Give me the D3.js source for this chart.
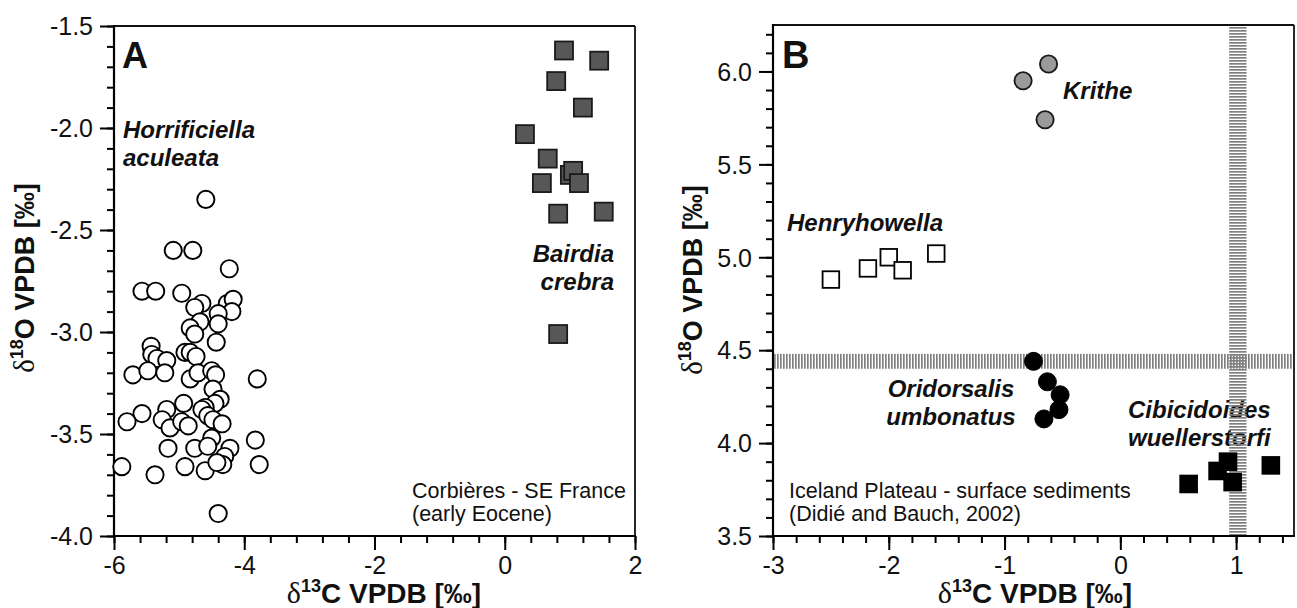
<!DOCTYPE html>
<html><head><meta charset="utf-8">
<script src="https://cdn.jsdelivr.net/npm/d3@7"></script>
<style>body{margin:0;background:#fff} svg{display:block;font-family:"Liberation Sans",Arial,sans-serif}</style>
</head><body><svg id="c" width="1297" height="608"></svg>
<script>
// ---- Panel A data (early Eocene, Corbières) ----
const horrificiella = [
 [-4.59,-2.35],[-5.09,-2.60],[-4.79,-2.60],[-4.23,-2.69],[-5.57,-2.80],[-5.36,-2.80],[-4.96,-2.81],
 [-4.65,-2.86],[-4.76,-2.88],[-4.26,-2.86],[-4.17,-2.84],[-4.19,-2.90],[-4.40,-2.91],[-4.68,-2.95],
 [-4.83,-2.98],[-4.40,-2.96],[-4.76,-3.01],[-4.43,-3.05],[-5.43,-3.07],[-5.42,-3.11],[-5.34,-3.13],
 [-5.19,-3.14],[-4.91,-3.10],[-4.83,-3.10],[-4.74,-3.12],[-5.71,-3.21],[-5.48,-3.19],[-5.22,-3.20],
 [-4.83,-3.23],[-4.71,-3.20],[-4.50,-3.19],[-4.44,-3.21],[-3.80,-3.23],[-4.48,-3.28],[-4.37,-3.33],
 [-4.45,-3.35],[-4.60,-3.37],[-4.65,-3.38],[-4.93,-3.35],[-5.19,-3.38],[-5.57,-3.40],[-5.80,-3.44],
 [-5.26,-3.43],[-5.14,-3.47],[-4.96,-3.44],[-4.86,-3.46],[-4.56,-3.41],[-4.48,-3.43],[-4.34,-3.45],
 [-4.50,-3.52],[-3.83,-3.53],[-5.17,-3.57],[-4.76,-3.57],[-4.56,-3.56],[-4.22,-3.57],[-4.30,-3.61],
 [-5.88,-3.66],[-5.37,-3.70],[-4.91,-3.66],[-4.60,-3.68],[-4.33,-3.65],[-4.42,-3.64],[-3.77,-3.65],
 [-4.40,-3.89]
];
const bairdia = [
 [0.91,-1.62],[1.45,-1.67],[0.79,-1.77],[1.20,-1.90],[0.31,-2.03],[0.66,-2.15],[1.00,-2.23],
 [1.05,-2.21],[1.14,-2.27],[0.57,-2.27],[0.82,-2.42],[1.52,-2.41],[0.82,-3.01]
];
// ---- Panel B data (Iceland Plateau, surface sediments) ----
const krithe = [[-0.62,6.04],[-0.84,5.95],[-0.65,5.74]];
const henryhowella = [[-2.50,4.88],[-2.18,4.94],[-2.00,5.00],[-1.88,4.93],[-1.59,5.02]];
const oridorsalis = [[-0.75,4.44],[-0.63,4.33],[-0.52,4.26],[-0.53,4.18],[-0.66,4.13]];
const cibicidoides = [[0.59,3.78],[0.84,3.85],[0.93,3.90],[0.97,3.79],[1.30,3.88]];
// hatched reference bands in panel B
const bandY = [4.40, 4.48];
const bandX = [0.94, 1.09];
// ticks
const xTicksA = [-6,-4,-2,0,2];
const yTicksA = [-4.0,-3.5,-3.0,-2.5,-2.0,-1.5];
const xTicksB = [-3,-2,-1,0,1];
const yTicksB = [3.5,4.0,4.5,5.0,5.5,6.0];

const svg = d3.select("#c");
svg.append("rect").attr("width",1297).attr("height",608).attr("fill","#fff");
const defs = svg.append("defs");
defs.append("pattern").attr("id","vstripes").attr("width",3).attr("height",10)
  .attr("patternUnits","userSpaceOnUse")
  .append("rect").attr("width",1.7).attr("height",10).attr("fill","#808080");
defs.append("pattern").attr("id","hstripes").attr("width",10).attr("height",3)
  .attr("patternUnits","userSpaceOnUse")
  .append("rect").attr("width",10).attr("height",1.7).attr("fill","#808080");

function rng(a,b,s){const o=[];for(let v=a;v<=b+1e-9;v+=s)o.push(+v.toFixed(3));return o;}

function panel(cfg){
  const {x,y,xMajor,yMajor,xMinor,yMinor,yFmt} = cfg;
  const [x0,x1]=x.range(), [y0,y1]=y.range();
  const g = svg.append("g");
  g.append("g").attr("transform",`translate(0,${y0})`)
    .call(d3.axisBottom(x).tickValues(xMinor).tickSize(7).tickFormat(""));
  g.append("g").attr("transform",`translate(${x0},0)`)
    .call(d3.axisLeft(y).tickValues(yMinor).tickSize(7).tickFormat(""));
  const xa = g.append("g").attr("transform",`translate(0,${y0})`)
    .call(d3.axisBottom(x).tickValues(xMajor).tickSize(14).tickPadding(6).tickFormat(d=>String(d)));
  const ya = g.append("g").attr("transform",`translate(${x0},0)`)
    .call(d3.axisLeft(y).tickValues(yMajor).tickSize(14).tickPadding(7).tickFormat(yFmt));
  g.selectAll(".domain").remove();
  g.selectAll(".tick line").attr("stroke","#000").attr("stroke-width",2);
  g.selectAll(".tick text").attr("font-family","Liberation Sans, Arial, sans-serif")
    .attr("font-size",25).attr("fill","#111");
  ya.selectAll(".tick text").attr("dy","0.35em");
  g.append("line").attr("x1",x0).attr("x2",x1).attr("y1",y1).attr("y2",y1).attr("stroke","#111").attr("stroke-width",1.8);
  g.append("line").attr("x1",x1).attr("x2",x1).attr("y1",y1).attr("y2",y0).attr("stroke","#111").attr("stroke-width",1.8);
  g.append("line").attr("x1",x0).attr("x2",x0).attr("y1",y1-1).attr("y2",y0+1).attr("stroke","#000").attr("stroke-width",2.2);
  g.append("line").attr("x1",x0-1).attr("x2",x1+1).attr("y1",y0).attr("y2",y0).attr("stroke","#000").attr("stroke-width",2.2);
  return g;
}

function xTitle(g, cx, by){
  const t = g.append("text").attr("x",cx).attr("y",by).attr("text-anchor","middle")
    .attr("font-size",28).attr("font-weight","bold").attr("fill","#111");
  t.append("tspan").attr("font-family","Liberation Serif, Times New Roman, serif").attr("font-weight","normal").attr("font-size",30).text("δ");
  t.append("tspan").attr("font-size",18).attr("dy",-11).text("13");
  t.append("tspan").attr("dy",11).text("C VPDB [‰]");
}
function yTitle(g, bx, cy){
  const t = g.append("text").attr("transform",`translate(${bx},${cy}) rotate(-90)`).attr("text-anchor","middle")
    .attr("font-size",27).attr("font-weight","bold").attr("fill","#111");
  t.append("tspan").attr("font-family","Liberation Serif, Times New Roman, serif").attr("font-weight","normal").attr("font-size",29).text("δ");
  t.append("tspan").attr("font-size",18).attr("dy",-11).text("18");
  t.append("tspan").attr("dy",11).text("O VPDB [‰]");
}
function label(g, x, y, lines, opt){
  const t = g.append("text").attr("x",x).attr("y",y)
    .attr("text-anchor",opt.anchor||"start")
    .attr("font-size",opt.size).attr("font-weight",opt.weight||"normal")
    .attr("font-style",opt.style||"normal").attr("fill","#111");
  lines.forEach((s,i)=>t.append("tspan").attr("x",x).attr("dy",i?opt.lh:0).text(s));
}

// ===== Panel A =====
const xA = d3.scaleLinear().domain([-6,2]).range([114,635]);
const yA = d3.scaleLinear().domain([-4,-1.5]).range([536,26]);
const gA = panel({x:xA,y:yA,xMajor:xTicksA,yMajor:yTicksA,
  xMinor:rng(-6,2,0.4),yMinor:rng(-4,-1.5,0.1),yFmt:d=>d.toFixed(1)});
xTitle(gA, 384, 603);
yTitle(gA, 34, 278);
label(gA,122,68,["A"],{size:36,weight:"bold"});
label(gA,123,138,["Horrificiella","aculeata"],{size:24,weight:"bold",style:"italic",lh:28});
label(gA,614,262,["Bairdia","crebra"],{size:24,weight:"bold",style:"italic",lh:28,anchor:"end"});
label(gA,412,498,["Corbières - SE France","(early Eocene)"],{size:21.5,lh:23});

gA.append("g").selectAll("circle").data(horrificiella).join("circle")
  .attr("cx",d=>xA(d[0])).attr("cy",d=>yA(d[1])).attr("r",8.6)
  .attr("fill","#fff").attr("stroke","#000").attr("stroke-width",1.9);
gA.append("g").selectAll("rect").data(bairdia).join("rect")
  .attr("x",d=>xA(d[0])-9).attr("y",d=>yA(d[1])-9).attr("width",18).attr("height",18)
  .attr("fill","#575757").attr("stroke","#1a1a1a").attr("stroke-width",1.8);

// ===== Panel B =====
const xB = d3.scaleLinear().domain([-3,1.5]).range([773,1294]);
const yB = d3.scaleLinear().domain([3.5,6.25]).range([536,25]);
const gB = panel({x:xB,y:yB,xMajor:xTicksB,yMajor:yTicksB,
  xMinor:rng(-3,1.4,0.2),yMinor:rng(3.5,6.2,0.1),yFmt:d=>d.toFixed(1)});
xTitle(gB, 1035, 603);
yTitle(gB, 702, 280);
label(gB,782,68,["B"],{size:38,weight:"bold"});
label(gB,1063,99,["Krithe"],{size:24,weight:"bold",style:"italic"});
label(gB,787,231,["Henryhowella"],{size:24,weight:"bold",style:"italic"});
label(gB,951,397,["Oridorsalis","umbonatus"],{size:24,weight:"bold",style:"italic",lh:28,anchor:"middle"});
label(gB,1128,418,["Cibicidoides","wuellerstorfi"],{size:24,weight:"bold",style:"italic",lh:28});
label(gB,789,498,["Iceland Plateau - surface sediments","(Didié and Bauch, 2002)"],{size:21.5,lh:23});

// hatched bands
gB.append("rect").attr("x",xB.range()[0]+1).attr("width",xB.range()[1]-xB.range()[0]-2)
  .attr("y",yB(bandY[1])).attr("height",yB(bandY[0])-yB(bandY[1])).attr("fill","url(#vstripes)");
gB.append("rect").attr("x",xB(bandX[0])).attr("width",xB(bandX[1])-xB(bandX[0]))
  .attr("y",yB.range()[1]+1).attr("height",yB.range()[0]-yB.range()[1]-2).attr("fill","url(#hstripes)");

gB.append("g").selectAll("circle").data(krithe).join("circle")
  .attr("cx",d=>xB(d[0])).attr("cy",d=>yB(d[1])).attr("r",8.6)
  .attr("fill","#9a9a9a").attr("stroke","#1a1a1a").attr("stroke-width",1.9);
gB.append("g").selectAll("rect").data(henryhowella).join("rect")
  .attr("x",d=>xB(d[0])-8.3).attr("y",d=>yB(d[1])-8.3).attr("width",16.6).attr("height",16.6)
  .attr("fill","#fff").attr("stroke","#000").attr("stroke-width",1.8);
gB.append("g").selectAll("circle").data(oridorsalis).join("circle")
  .attr("cx",d=>xB(d[0])).attr("cy",d=>yB(d[1])).attr("r",9)
  .attr("fill","#000").attr("stroke","#000").attr("stroke-width",1);
gB.append("g").selectAll("rect").data(cibicidoides).join("rect")
  .attr("x",d=>xB(d[0])-9.3).attr("y",d=>yB(d[1])-9.3).attr("width",18.6).attr("height",18.6)
  .attr("fill","#000");
</script></body></html>
